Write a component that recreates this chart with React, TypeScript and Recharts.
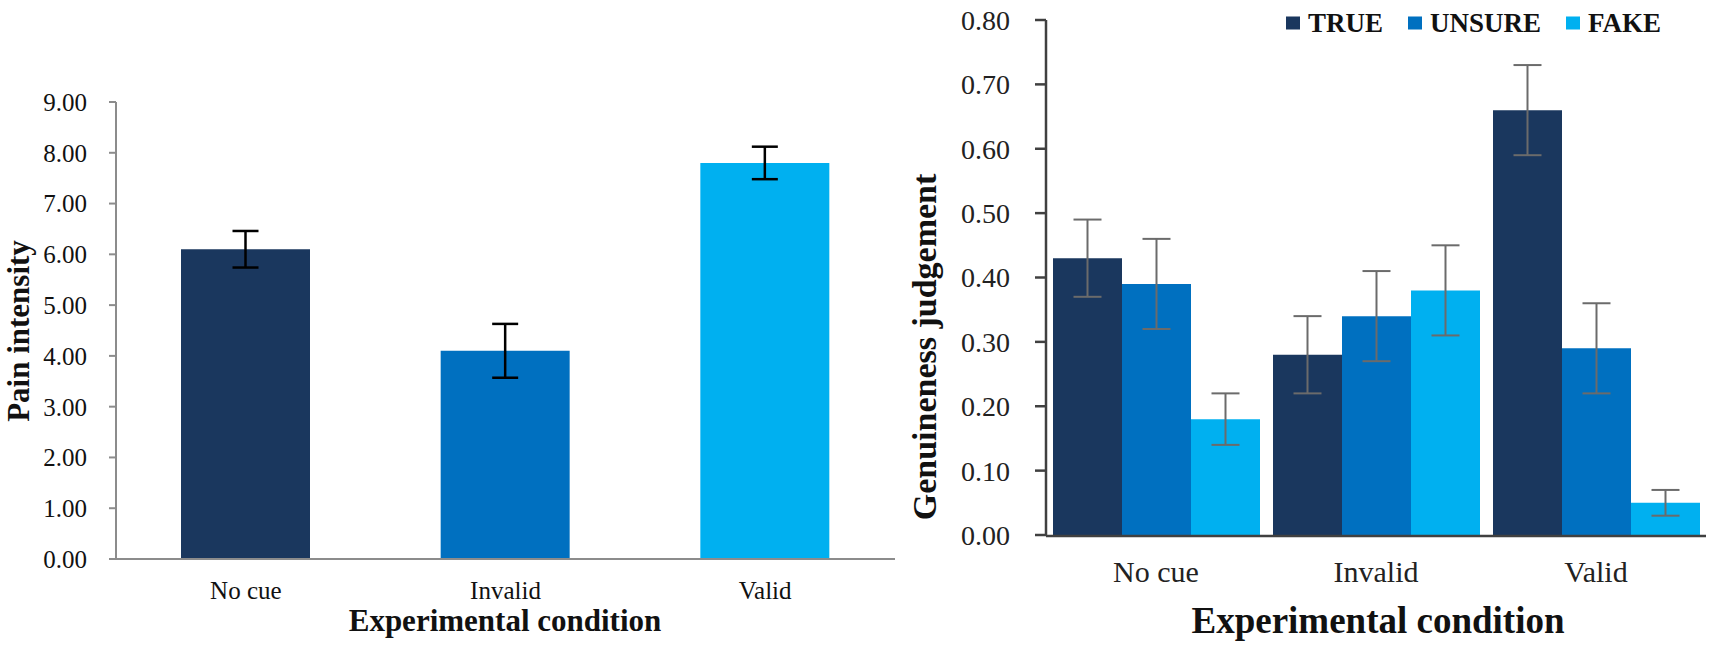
import React from 'react';
import { BarChart, Bar, XAxis, YAxis, ErrorBar, Cell } from 'recharts';

const conditions = ['No cue', 'Invalid', 'Valid'];

const painMean = [6.1, 4.1, 7.8];
const painErr = [0.36, 0.53, 0.32];
const painColors = ['#1a375e', '#0070c0', '#00b0f0'];
const painTicks = [0, 1, 2, 3, 4, 5, 6, 7, 8, 9];

const seriesNames = ['TRUE', 'UNSURE', 'FAKE'];
const trueMean = [0.43, 0.28, 0.66];
const trueErr = [0.06, 0.06, 0.07];
const unsureMean = [0.39, 0.34, 0.29];
const unsureErr = [0.07, 0.07, 0.07];
const fakeMean = [0.18, 0.38, 0.05];
const fakeErr = [0.04, 0.07, 0.02];
const genuineTicks = [0, 0.1, 0.2, 0.3, 0.4, 0.5, 0.6, 0.7, 0.8];
const boundaryTicks = [0, 1, 2, 3];

const serif = '"Liberation Serif", "Times New Roman", serif';

const painData = conditions.map((c, i) => ({
  condition: c,
  value: painMean[i],
  err: painErr[i],
}));

const genuineData = conditions.map((c, i) => ({
  condition: c,
  t: trueMean[i],
  tErr: trueErr[i],
  u: unsureMean[i],
  uErr: unsureErr[i],
  f: fakeMean[i],
  fErr: fakeErr[i],
}));

const genuineSeries = [
  { key: 't', errKey: 'tErr', name: seriesNames[0], color: painColors[0] },
  { key: 'u', errKey: 'uErr', name: seriesNames[1], color: painColors[1] },
  { key: 'f', errKey: 'fErr', name: seriesNames[2], color: painColors[2] },
];

const fmt = (v: number) => v.toFixed(2);

function Title({ text, x, y, size, rotate }: { text: string; x: number; y: number; size: number; rotate?: boolean }) {
  return (
    <div
      style={{
        position: 'absolute',
        left: x,
        top: y,
        transform: `translate(-50%, -50%)${rotate ? ' rotate(-90deg)' : ''}`,
        fontWeight: 700,
        fontSize: size,
        lineHeight: 1,
        whiteSpace: 'nowrap',
        color: '#111',
      }}
    >
      {text}
    </div>
  );
}

function GenuineLegend() {
  return (
    <div
      style={{
        position: 'absolute',
        left: 1286,
        top: 23,
        transform: 'translateY(-50%)',
        display: 'flex',
        alignItems: 'center',
        fontWeight: 700,
        fontSize: 27,
        lineHeight: 1,
        color: '#111',
      }}
    >
      {genuineSeries.map((s) => (
        <div key={s.key} style={{ display: 'flex', alignItems: 'center', marginRight: 25 }}>
          <span style={{ width: 14, height: 13, background: s.color, marginRight: 8, display: 'inline-block' }} />
          <span>{s.name}</span>
        </div>
      ))}
    </div>
  );
}

export default function App() {
  return (
    <div
      style={{
        position: 'absolute',
        left: 0,
        top: 0,
        width: 1729,
        height: 649,
        background: '#fff',
        overflow: 'hidden',
        fontFamily: serif,
      }}
    >
      <style>{`.recharts-text { font-family: ${serif}; }`}</style>
      <div style={{ position: 'absolute', left: 0, top: 0 }}>
        <BarChart width={900} height={649} data={painData} margin={{ top: 102, right: 5, left: 36, bottom: 0 }}>
          <XAxis
            dataKey="condition"
            height={90}
            axisLine={{ stroke: '#8c8c8c', strokeWidth: 2 }}
            tickLine={false}
            tickSize={6}
            tickMargin={16}
            tick={{ fill: '#111', fontSize: 25, fontFamily: serif }}
          />
          <YAxis
            width={80}
            domain={[0, 9]}
            ticks={painTicks}
            tickFormatter={fmt}
            axisLine={{ stroke: '#8c8c8c', strokeWidth: 2 }}
            tickLine={{ stroke: '#8c8c8c', strokeWidth: 2 }}
            tickSize={7}
            tickMargin={22}
            tick={{ fill: '#111', fontSize: 25, fontFamily: serif }}
          />
          <Bar dataKey="value" barSize={129} isAnimationActive={false}>
            {painData.map((d, i) => (
              <Cell key={d.condition} fill={painColors[i]} />
            ))}
            <ErrorBar dataKey="err" width={13} stroke="#000" strokeWidth={2.5} />
          </Bar>
        </BarChart>
      </div>

      <div style={{ position: 'absolute', left: 900, top: 0 }}>
        <BarChart
          width={829}
          height={649}
          data={genuineData}
          margin={{ top: 20, right: 23, left: 46, bottom: 112 }}
          barGap={0}
        >
          <XAxis
            dataKey="condition"
            height={1}
            axisLine={false}
            tickLine={false}
            tickSize={6}
            tickMargin={20}
            tick={{ fill: '#222', fontSize: 30, fontFamily: serif }}
          />
          <XAxis
            xAxisId="bounds"
            type="number"
            domain={[0, 3]}
            ticks={boundaryTicks}
            allowDataOverflow
            height={1}
            tick={false}
            axisLine={{ stroke: '#404040', strokeWidth: 2.5 }}
            tickLine={{ stroke: '#404040', strokeWidth: 2.5 }}
            tickSize={9}
          />
          <YAxis
            width={100}
            domain={[0, 0.8]}
            ticks={genuineTicks}
            tickFormatter={fmt}
            axisLine={{ stroke: '#404040', strokeWidth: 2.5 }}
            tickLine={{ stroke: '#404040', strokeWidth: 2.5 }}
            tickSize={11}
            tickMargin={25}
            tick={{ fill: '#222', fontSize: 28, fontFamily: serif }}
          />
          {genuineSeries.map((s) => (
            <Bar key={s.key} dataKey={s.key} name={s.name} fill={s.color} barSize={69} isAnimationActive={false}>
              <ErrorBar dataKey={s.errKey} width={14} stroke="#6b6b6b" strokeWidth={2} />
            </Bar>
          ))}
        </BarChart>
      </div>

      <Title text="Pain intensity" x={18} y={331} size={31} rotate />
      <Title text="Experimental condition" x={505} y={620} size={31} />
      <Title text="Genuineness judgement" x={925} y={347} size={34} rotate />
      <Title text="Experimental condition" x={1378} y={620} size={37} />
      <GenuineLegend />
    </div>
  );
}
